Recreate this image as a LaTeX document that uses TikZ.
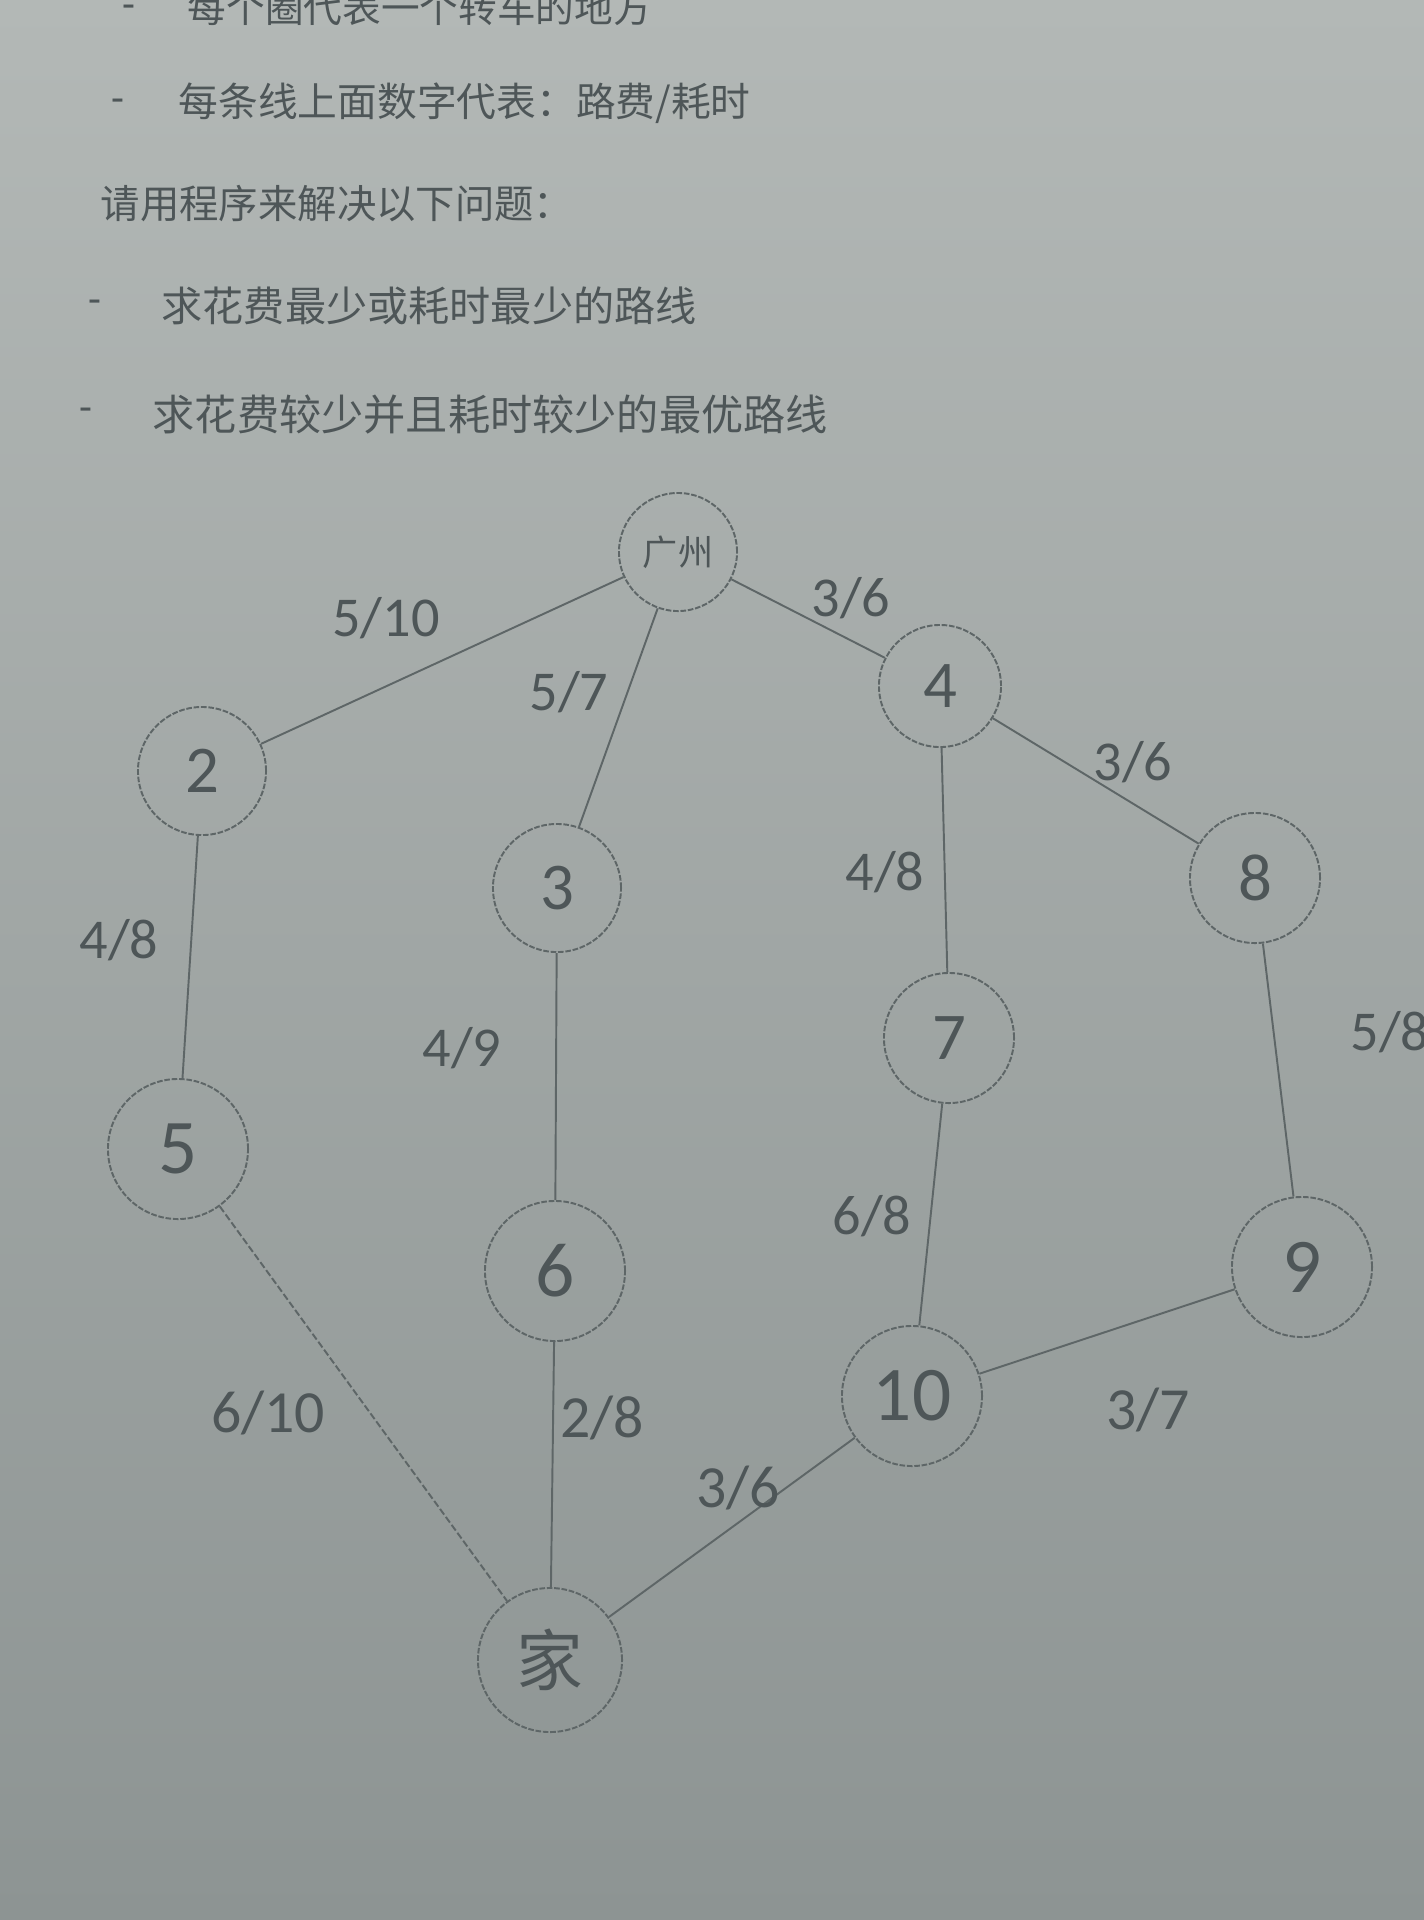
\documentclass[tikz,border=0pt]{standalone}
\usepackage{fontspec}
\setmainfont{Carlito}
\newfontfamily\cjk{Noto Sans CJK SC}
\definecolor{paperlight}{HTML}{B3B8B6}
\definecolor{paperdark}{HTML}{8D9493}
\definecolor{ink}{HTML}{4E5658}
\definecolor{pen}{HTML}{5E6667}

\begin{document}
\begin{tikzpicture}[x=0.01cm, y=-0.01cm,
    stop/.style={circle, draw=pen, line width=0.55pt, dash pattern=on 1.6pt off 0.5pt,
      inner sep=0pt, minimum size=1.28cm, text=ink, font=\fontsize{19}{22}\selectfont},
    big/.style={minimum size=1.4cm, font=\fontsize{22}{26}\selectfont},
    road/.style={draw=pen, line width=0.55pt},
    cost/.style={text=ink, font=\fontsize{16}{19}\selectfont},
    say/.style={anchor=west, text=ink, inner sep=0pt, font=\cjk\fontsize{11.5}{14}\selectfont},
    bullet/.style={text=ink, inner sep=0pt, font=\fontsize{12}{14}\selectfont}]

    % paper
    \useasboundingbox (0,0) rectangle (1424,1920);
    \clip (0,0) rectangle (1424,1920);
    \shade[top color=paperlight, bottom color=paperdark] (0,0) rectangle (1424,1920);

    % task text
    \node[bullet] (d1) at (129,12) {-};
    \node[say, font=\cjk\fontsize{11}{13}\selectfont] (t1) at (187,8) {每个圈代表一个转车的地方};
    \node[bullet] (d2) at (118,106) {-};
    \node[say, font=\cjk\fontsize{11.3}{13}\selectfont] (t2) at (178,103) {每条线上面数字代表：路费/耗时};
    \node[say, font=\cjk\fontsize{11.2}{13}\selectfont] (t3) at (100,204) {请用程序来解决以下问题：};
    \node[bullet] (d4) at (95,307) {-};
    \node[say, font=\cjk\fontsize{11.7}{14}\selectfont] (t4) at (161,306) {求花费最少或耗时最少的路线};
    \node[bullet] (d5) at (86,415) {-};
    \node[say, font=\cjk\fontsize{12}{14}\selectfont] (t5) at (152,414) {求花费较少并且耗时较少的最优路线};

    % places
    \node[stop, minimum size=1.18cm, font=\cjk\fontsize{10}{12}\selectfont] (gz) at (678,552) {广州};
    \node[stop, minimum size=1.22cm] (n4) at (940,686) {4};
    \node[stop] (n2) at (202,771) {2};
    \node[stop] (n3) at (557,888) {3};
    \node[stop, minimum size=1.3cm] (n8) at (1255,878) {8};
    \node[stop, minimum size=1.3cm] (n7) at (949,1038) {7};
    \node[stop, big] (n5) at (178,1149) {5};
    \node[stop, big] (n6) at (555,1271) {6};
    \node[stop, big] (n9) at (1302,1267) {9};
    \node[stop, big] (n10) at (912,1396) {10};
    \node[stop, big, minimum size=1.44cm, font=\cjk\fontsize{19}{22}\selectfont] (home) at (550,1660) {家};

    % roads
    \draw[road] (gz) -- (n2);
    \draw[road] (gz) -- (n3);
    \draw[road] (gz) -- (n4);
    \draw[road] (n4) -- (n7);
    \draw[road] (n4) -- (n8);
    \draw[road] (n2) -- (n5);
    \draw[road] (n3) -- (n6);
    \draw[road] (n8) -- (n9);
    \draw[road] (n7) -- (n10);
    \draw[road, dash pattern=on 2pt off 0.8pt] (n5) -- (home);
    \draw[road] (n6) -- (home);
    \draw[road] (n10) -- (home);
    \draw[road] (n9) -- (n10);

    % cost / time
    \node[cost] (c1) at (386,618) {5/10};
    \node[cost] (c2) at (569,692) {5/7};
    \node[cost] (c3) at (851,598) {3/6};
    \node[cost] (c4) at (1133,762) {3/6};
    \node[cost] (c5) at (885,872) {4/8};
    \node[cost] (c6) at (119,940) {4/8};
    \node[cost] (c7) at (462,1048) {4/9};
    \node[cost, anchor=west, inner sep=0pt] (c8) at (1350,1032) {5/8};
    \node[cost] (c9) at (872,1216) {6/8};
    \node[cost, font=\fontsize{17}{20}\selectfont] (c10) at (268,1413) {6/10};
    \node[cost, font=\fontsize{17}{20}\selectfont] (c11) at (602,1418) {2/8};
    \node[cost, font=\fontsize{17}{20}\selectfont] (c12) at (738,1488) {3/6};
    \node[cost, font=\fontsize{17}{20}\selectfont] (c13) at (1148,1410) {3/7};
\end{tikzpicture}
\end{document}
